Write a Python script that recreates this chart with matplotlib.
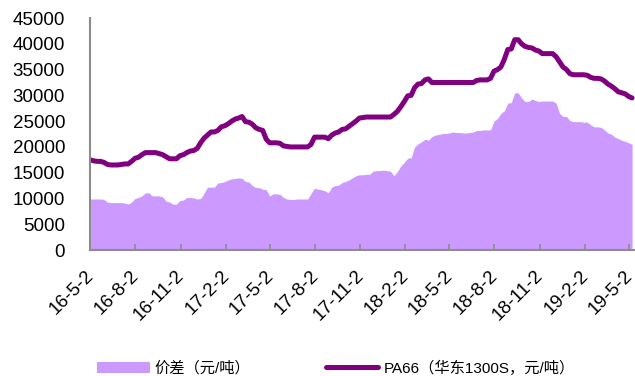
import numpy as np
import pandas as pd
import matplotlib
matplotlib.use('Agg')
import matplotlib.pyplot as plt
import matplotlib.dates as mdates
import matplotlib.transforms as mtransforms
from matplotlib.patches import Patch
from matplotlib.lines import Line2D

plt.rcParams['font.family'] = ['Liberation Sans', 'Noto Sans CJK SC', 'DejaVu Sans']

# roughly weekly series between these two dates
start_date = '2016-05-02'
end_date = '2019-05-09'

pa66_price = [
    17500, 17300, 17200, 17200, 17000, 16600, 16500, 16500, 16500, 16600,
    16700, 16700, 17200, 17800, 18000, 18500, 18900, 18900, 18900, 18900,
    18700, 18500, 18100, 17700, 17700, 17700, 18300, 18500, 18900, 19200,
    19300, 19700, 20800, 21700, 22300, 22900, 22900, 23200, 23900, 24100,
    24500, 25000, 25400, 25600, 25900, 24900, 24800, 24400, 23700, 23400,
    23200, 21500, 20800, 20800, 20800, 20700, 20200, 20100, 20000, 20000,
    20000, 20000, 20000, 20000, 20500, 21900, 21900, 21900, 21900, 21600,
    22300, 22700, 22900, 23400, 23500, 24000, 24500, 25000, 25600, 25700,
    25800, 25800, 25800, 25800, 25800, 25800, 25800, 25800, 26300, 26900,
    27800, 28800, 29900, 30000, 31500, 32200, 32300, 33000, 33200, 32500,
    32500, 32500, 32500, 32500, 32500, 32500, 32500, 32500, 32500, 32500,
    32500, 32500, 32900, 33000, 33000, 33000, 33300, 34700, 35000, 35500,
    37000, 38900, 39000, 40800, 40800, 40000, 39500, 39300, 39200, 38800,
    38600, 38100, 38100, 38100, 38100, 37500, 36500, 35500, 35000, 34200,
    34000, 34000, 34000, 34000, 33900, 33500, 33300, 33300, 33200, 32800,
    32200, 31800, 31300, 30700, 30500, 30300, 29800, 29500,
]

spread = [
    9900, 9900, 9900, 9900, 9800, 9300, 9200, 9200, 9200, 9200,
    9100, 8900, 9300, 10000, 10200, 10500, 11100, 11100, 10500, 10500,
    10500, 10300, 9500, 9300, 8900, 8900, 9600, 9700, 10200, 10200,
    10100, 9900, 10000, 11000, 12200, 12200, 12200, 13000, 13100, 13300,
    13600, 13800, 13900, 14000, 13900, 13300, 13200, 12500, 12100, 12100,
    11800, 11700, 10500, 10900, 10900, 10800, 10200, 9900, 9800, 9800,
    9900, 9900, 9900, 9900, 11000, 12000, 11800, 11700, 11500, 11100,
    12200, 12500, 12600, 13100, 13300, 13600, 14000, 14400, 14600, 14600,
    14700, 14700, 15300, 15400, 15400, 15500, 15400, 15300, 14400, 15200,
    16300, 17000, 17800, 17900, 20000, 20600, 21000, 21500, 21300, 22000,
    22300, 22400, 22600, 22600, 22700, 22900, 22800, 22800, 22700, 22700,
    22800, 22900, 23200, 23200, 23300, 23300, 23300, 25000, 25500, 26500,
    27000, 28500, 28600, 30500, 30500, 29500, 28800, 28800, 29300, 29000,
    28800, 28900, 28900, 28900, 28900, 28500, 26500, 25900, 25900, 25100,
    24900, 24900, 24900, 24800, 24800, 24300, 23900, 23900, 23800, 23300,
    22700, 22500, 21900, 21600, 21300, 21100, 20800, 20500,
]

tick_dates = ['2016-05-02', '2016-08-02', '2016-11-02', '2017-02-02', '2017-05-02',
              '2017-08-02', '2017-11-02', '2018-02-02', '2018-05-02', '2018-08-02',
              '2018-11-02', '2019-02-02', '2019-05-02']
tick_labels = ['16-5-2', '16-8-2', '16-11-2', '17-2-2', '17-5-2', '17-8-2', '17-11-2',
               '18-2-2', '18-5-2', '18-8-2', '18-11-2', '19-2-2', '19-5-2']

dates = pd.date_range(start_date, end_date, periods=len(pa66_price))

fill_color = '#CC99FF'
line_color = '#800080'
axis_color = '#8C8C8C'

fig = plt.figure(figsize=(6.35, 3.76), dpi=100)
ax = fig.add_axes([0.142, 0.335, 0.858, 0.617])

ax.fill_between(dates, 0, spread, color=fill_color, linewidth=0)
ax.plot(dates, pa66_price, color=line_color, linewidth=3.6,
        solid_joinstyle='round', solid_capstyle='round')

ax.set_ylim(0, 45000)
ax.set_yticks(np.arange(0, 45001, 5000))
ax.set_xlim(pd.Timestamp(start_date), pd.Timestamp('2019-05-15'))
ticks = pd.to_datetime(tick_dates)
ax.set_xticks(ticks)
ax.set_xticklabels([])

# slanted date labels, anchored a little below and left of each tick
label_trans = ax.get_xaxis_transform() + mtransforms.ScaledTranslation(
    -5 / 100, -17 / 100, fig.dpi_scale_trans)
for t, text in zip(ticks, tick_labels):
    ax.text(mdates.date2num(t), 0, text, transform=label_trans, fontsize=13.5,
            rotation=45, ha='right', va='top', rotation_mode='anchor')

for side in ['top', 'right']:
    ax.spines[side].set_visible(False)
for side in ['left', 'bottom']:
    ax.spines[side].set_color(axis_color)
    ax.spines[side].set_linewidth(1.5)

ax.tick_params(axis='y', length=0, labelsize=13.5, pad=18)
ax.tick_params(axis='x', direction='in', length=4, width=1.2, color=axis_color)

handles = [Patch(facecolor=fill_color, edgecolor='none'),
           Line2D([], [], color=line_color, linewidth=3.6, solid_capstyle='round')]
labels = ['价差（元/吨）', 'PA66（华东1300S，元/吨）']
fig.legend(handles, labels, loc='center left', bbox_to_anchor=(0.153, 0.021),
           ncol=2, frameon=False, fontsize=11, borderpad=0, borderaxespad=0,
           handlelength=3.45, handleheight=0.72, handletextpad=0.33,
           columnspacing=4.9)

fig.savefig('out.png', dpi=100)
